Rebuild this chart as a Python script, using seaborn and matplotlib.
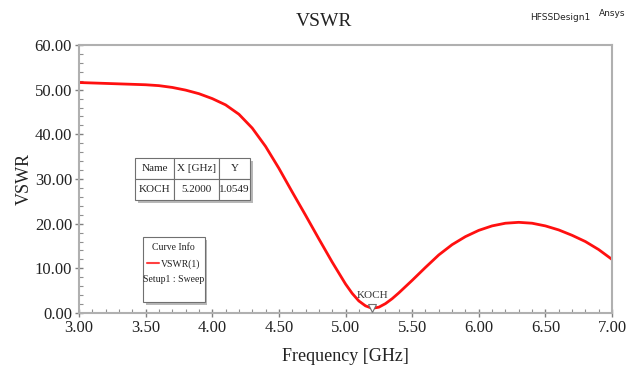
import matplotlib
matplotlib.use("Agg")
import matplotlib.pyplot as plt
import matplotlib.ticker as mticker
from matplotlib.patches import Rectangle
import seaborn as sns
import pandas as pd

# VSWR sweep
freq = [3.0, 3.1, 3.2, 3.3, 3.4, 3.5, 3.6, 3.7, 3.8, 3.9,
        4.0, 4.1, 4.2, 4.3, 4.4, 4.5, 4.6, 4.7, 4.8, 4.9,
        5.0, 5.05, 5.1, 5.15, 5.2, 5.25, 5.3, 5.35, 5.4, 5.5, 5.6, 5.7, 5.8, 5.9,
        6.0, 6.1, 6.2, 6.3, 6.4, 6.5, 6.6, 6.7, 6.8, 6.9, 7.0]
vswr = [51.6, 51.5, 51.4, 51.3, 51.2, 51.1, 50.9, 50.5, 49.9, 49.1,
        48.0, 46.6, 44.5, 41.4, 37.3, 32.4, 27.1, 21.9, 16.6, 11.4,
        6.5, 4.4, 2.7, 1.6, 1.05, 1.3, 2.1, 3.2, 4.5, 7.3, 10.2, 13.0, 15.3, 17.1,
        18.5, 19.5, 20.1, 20.3, 20.1, 19.5, 18.6, 17.4, 16.0, 14.2, 12.0]

marker_name = "KOCH"
marker_x = 5.2
marker_y = 1.0549

df = pd.DataFrame({"Frequency": freq, "VSWR": vswr})

sns.set_style("white")
serif = ["Liberation Serif", "DejaVu Serif"]
narrow = ["Liberation Sans Narrow", "DejaVu Sans"]

fig = plt.figure(figsize=(6.37, 3.76), dpi=100)
ax = fig.add_axes([79 / 637, 1 - 313 / 376, 533 / 637, 268 / 376])

sns.lineplot(data=df, x="Frequency", y="VSWR", ax=ax, color="#ff1010", linewidth=2)

ax.set_xlim(3.0, 7.0)
ax.set_ylim(0, 60)
ax.xaxis.set_major_locator(mticker.MultipleLocator(0.5))
ax.xaxis.set_minor_locator(mticker.MultipleLocator(0.1))
ax.yaxis.set_major_locator(mticker.MultipleLocator(10))
ax.yaxis.set_minor_locator(mticker.MultipleLocator(2))
ax.xaxis.set_major_formatter(mticker.FormatStrFormatter("%.2f"))
ax.yaxis.set_major_formatter(mticker.FormatStrFormatter("%.2f"))
ax.tick_params(which="major", direction="inout", length=6, width=1, color="#808080",
               labelsize=12, pad=2, bottom=True, left=True)
ax.tick_params(which="minor", direction="in", length=3, width=0.8, color="#909090",
               bottom=True, left=True)
for lbl in ax.get_xticklabels() + ax.get_yticklabels():
    lbl.set_family(serif)
    lbl.set_color("#222222")
for s in ax.spines.values():
    s.set_color("#b0b0b0")
    s.set_linewidth(1.5)

ax.set_xlabel("Frequency [GHz]", family=serif, fontsize=13, color="#222222", labelpad=9)
ax.set_ylabel("VSWR", family=serif, fontsize=13, color="#222222", labelpad=1)
fig.text(324 / 637, 1 - 22 / 376, "VSWR", family=serif, fontsize=14, color="#222222",
         ha="center", va="center")
fig.text(560 / 637, 1 - 18 / 376, "HFSSDesign1", family=narrow, fontsize=6.5,
         ha="center", va="center", color="#222222")
fig.text(612 / 637, 1 - 13 / 376, "Ansys", family=narrow, fontsize=6.5,
         ha="center", va="center", color="#222222")

# marker
ax.plot(marker_x, marker_y, marker="v", ms=6, mfc="white", mec="#707070", mew=0.8,
        clip_on=False, zorder=5)
ax.text(marker_x, marker_y + 1.8, marker_name, family=serif, fontsize=8, ha="center",
        va="bottom", color="#333333")

# marker table
tx0, tx1, ty0, ty1 = 0.105, 0.321, 0.422, 0.578
ax.add_patch(Rectangle((tx0 + 0.006, ty0 - 0.012), tx1 - tx0, ty1 - ty0,
                       transform=ax.transAxes, fc="#b8b8b8", ec="none", zorder=3))
tbl = ax.table(cellText=[["Name", "X [GHz]", "Y"],
                         [marker_name, f"{marker_x:.4f}", f"{marker_y:.4f}"]],
               cellLoc="center", bbox=[tx0, ty0, tx1 - tx0, ty1 - ty0],
               colWidths=[0.34, 0.39, 0.27])
tbl.auto_set_font_size(False)
tbl.set_zorder(4)
for cell in tbl.get_celld().values():
    cell.set_edgecolor("#707070")
    cell.set_linewidth(0.8)
    cell.get_text().set_fontsize(8)
    cell.get_text().set_family(serif)
    cell.get_text().set_color("#222222")

# curve info box
cx0, cx1, cy0, cy1 = 0.120, 0.236, 0.041, 0.284
ax.add_patch(Rectangle((cx0 + 0.005, cy0 - 0.012), cx1 - cx0, cy1 - cy0,
                       transform=ax.transAxes, fc="#b8b8b8", ec="none", zorder=3))
ax.add_patch(Rectangle((cx0, cy0), cx1 - cx0, cy1 - cy0, transform=ax.transAxes,
                       fc="white", ec="#707070", lw=0.8, zorder=4))
cxm = (cx0 + cx1) / 2
ax.text(cxm, 0.245, "Curve Info", transform=ax.transAxes, family=serif, fontsize=7,
        ha="center", va="center", zorder=5, color="#222222")
ax.plot([cx0 + 0.008, cx0 + 0.030], [0.185, 0.185], transform=ax.transAxes,
        color="#ff4040", lw=1.5, zorder=5)
ax.text(cx1 - 0.008, 0.183, "VSWR(1)", transform=ax.transAxes, family=serif, fontsize=7,
        ha="right", va="center", zorder=5, color="#222222")
ax.text(cxm, 0.125, "Setup1 : Sweep", transform=ax.transAxes, family=serif, fontsize=7,
        ha="center", va="center", zorder=5, color="#222222")

fig.savefig("out.png", dpi=100)
